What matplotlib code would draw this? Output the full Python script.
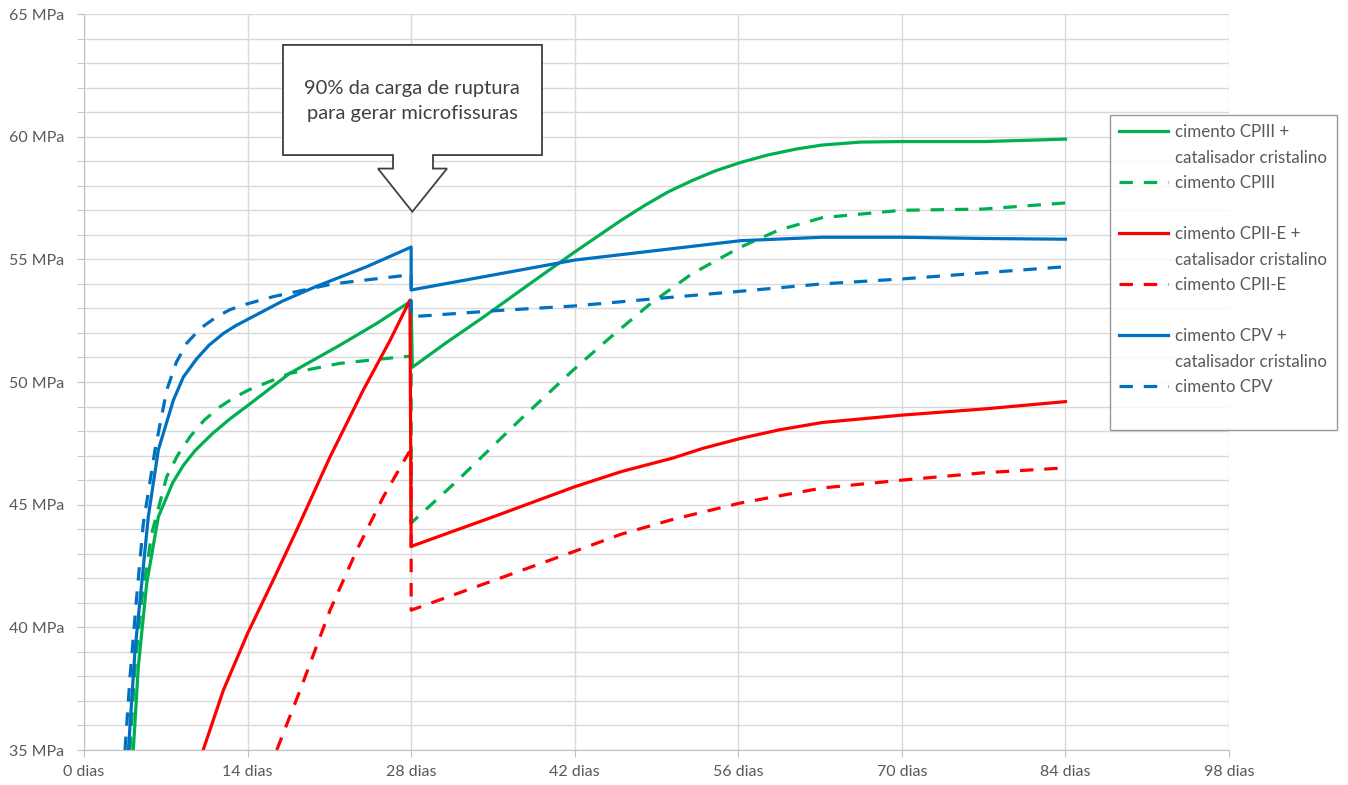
import matplotlib
matplotlib.use("Agg")
import matplotlib.pyplot as plt
from matplotlib.lines import Line2D
from matplotlib.patches import Polygon

plt.rcParams['font.family'] = ['Lato', 'DejaVu Sans']

# eixos
x_ticks = [0, 14, 28, 42, 56, 70, 84, 98]
x_labels = [f"{d} dias" for d in x_ticks]
y_ticks = [35, 40, 45, 50, 55, 60, 65]
y_labels = [f"{v} MPa" for v in y_ticks]
y_minor = list(range(35, 66))

# cimento CPIII + catalisador cristalino
cpiii_cat_dias = [4.22, 4.65, 5.37, 6.36, 7.6, 8.5, 9.5, 11.0, 12.5, 14.07, 17.6, 21.9, 25.06,
                  28.0, 28.1, 31.0, 34.2, 38.0, 42.0, 44.0, 46.0, 48.0, 50.0, 52.0, 54.0, 56.2,
                  58.5, 61.0, 63.2, 66.5, 70.0, 77.0, 84.0]
cpiii_cat_mpa = [35.0, 38.4, 41.8, 44.5, 45.9, 46.6, 47.2, 47.9, 48.5, 49.06, 50.35, 51.5, 52.39,
                 53.3, 50.6, 51.6, 52.65, 53.95, 55.3, 55.95, 56.6, 57.2, 57.75, 58.2, 58.6, 58.95,
                 59.25, 59.5, 59.66, 59.78, 59.8, 59.8, 59.9]

# cimento CPIII
cpiii_dias = [3.94, 4.37, 4.94, 5.8, 7.08, 8.0, 9.08, 10.3, 11.64, 12.8, 14.07, 17.6, 21.9, 27.3,
              28.0, 28.0, 32.0, 37.3, 41.9, 45.0, 48.5, 52.0, 56.2, 59.5, 63.2, 70.0, 77.0, 84.0]
cpiii_mpa = [35.0, 38.4, 41.1, 43.83, 46.14, 47.0, 47.77, 48.45, 48.99, 49.35, 49.67, 50.35, 50.76,
             51.03, 51.05, 44.25, 46.0, 48.45, 50.5, 51.8, 53.2, 54.4, 55.5, 56.2, 56.7, 57.0,
             57.05, 57.3]

# cimento CPII-E + catalisador cristalino
cpii_cat_dias = [10.2, 11.93, 14.0, 16.2, 18.2, 21.06, 23.9, 26.2, 27.9, 28.0, 35.0, 42.0, 46.0,
                 50.4, 53.0, 56.2, 59.5, 63.2, 70.0, 77.0, 84.0]
cpii_cat_mpa = [35.0, 37.44, 39.75, 41.93, 43.96, 46.95, 49.67, 51.7, 53.34, 43.3, 44.5, 45.73,
                46.35, 46.9, 47.3, 47.7, 48.05, 48.35, 48.65, 48.9, 49.2]

# cimento CPII-E
cpii_dias = [16.5, 18.5, 21.06, 23.35, 25.6, 27.77, 28.0, 28.0, 35.0, 42.0, 46.0, 50.4, 56.2,
             63.2, 70.0, 77.0, 84.0]
cpii_mpa = [35.0, 37.44, 40.7, 43.15, 45.3, 47.1, 47.2, 40.7, 41.9, 43.1, 43.8, 44.4, 45.07,
            45.68, 46.0, 46.3, 46.5]

# cimento CPV + catalisador cristalino
cpv_cat_dias = [3.8, 4.37, 4.94, 5.5, 6.36, 7.65, 8.5, 9.65, 10.7, 11.93, 13.0, 14.2, 17.0, 19.9,
                24.2, 28.0, 28.0, 35.0, 42.0, 49.0, 56.2, 63.2, 70.0, 77.0, 84.0]
cpv_cat_mpa = [35.0, 39.08, 41.8, 44.5, 47.23, 49.26, 50.2, 50.95, 51.5, 51.98, 52.3, 52.6, 53.3,
               53.9, 54.7, 55.5, 53.75, 54.36, 54.97, 55.36, 55.76, 55.9, 55.9, 55.85, 55.82]

# cimento CPV
cpv_dias = [3.51, 3.94, 4.51, 5.08, 6.08, 7.08, 7.9, 8.79, 10.0, 11.36, 12.5, 13.64, 16.2, 21.3,
            27.6, 28.0, 28.0, 35.0, 42.0, 49.0, 56.2, 63.2, 70.0, 77.0, 84.0]
cpv_mpa = [35.0, 37.99, 41.25, 44.24, 47.23, 49.67, 50.8, 51.58, 52.2, 52.66, 52.95, 53.14, 53.48,
           54.0, 54.35, 54.4, 52.66, 52.9, 53.1, 53.4, 53.7, 54.0, 54.2, 54.45, 54.7]

verde = '#00B050'
vermelho = '#FF0000'
azul = '#0070C0'
cinza_txt = '#595959'
lw = 2.3
tracejado = (0, (4.2, 3.4))

fig = plt.figure(figsize=(13.48, 7.85), dpi=100)
ax = fig.add_axes([84 / 1348, 35 / 785, 1145 / 1348, 736 / 785])

h1, = ax.plot(cpiii_cat_dias, cpiii_cat_mpa, color=verde, lw=lw)
h2, = ax.plot(cpiii_dias, cpiii_mpa, color=verde, lw=lw, ls=tracejado)
h3, = ax.plot(cpii_cat_dias, cpii_cat_mpa, color=vermelho, lw=lw)
h4, = ax.plot(cpii_dias, cpii_mpa, color=vermelho, lw=lw, ls=tracejado)
h5, = ax.plot(cpv_cat_dias, cpv_cat_mpa, color=azul, lw=lw)
h6, = ax.plot(cpv_dias, cpv_mpa, color=azul, lw=lw, ls=tracejado)

ax.set_xlim(0, 98)
ax.set_ylim(35, 65)
ax.set_xticks(x_ticks)
ax.set_xticklabels(x_labels)
ax.set_yticks(y_ticks)
ax.set_yticklabels(y_labels)
ax.set_yticks(y_minor, minor=True)

ax.grid(True, which='major', color='#D9D9D9', lw=1.0)
ax.grid(True, which='minor', axis='y', color='#D9D9D9', lw=1.0)
ax.set_axisbelow(True)
for s in ['top', 'right']:
    ax.spines[s].set_visible(False)
for s in ['left', 'bottom']:
    ax.spines[s].set_color('#BFBFBF')
ax.tick_params(which='both', direction='out', length=5, color='#BFBFBF',
               labelcolor=cinza_txt, labelsize=11.5)
ax.tick_params(axis='y', pad=9)
ax.tick_params(axis='x', pad=6)

# balão com seta apontando para os 28 dias
tip_x, tip_y = 28.1, 56.94
balao = [(17.03, 63.74), (39.2, 63.74), (39.2, 59.25), (29.87, 59.25), (29.87, 58.7),
         (31.07, 58.7), (tip_x, tip_y), (25.16, 58.7), (26.45, 58.7), (26.45, 59.25),
         (17.03, 59.25)]
ax.add_patch(Polygon(balao, closed=True, fc='white', ec='#404040', lw=1.3, zorder=5))
ax.text(tip_x, 61.45, "90% da carga de ruptura\npara gerar microfissuras",
        ha='center', va='center', fontsize=14.5, color='#404040', linespacing=1.55, zorder=6)

vazio = Line2D([], [], color='none')
handles = [h1, vazio, h2, vazio, h3, vazio, h4, vazio, h5, vazio, h6, vazio]
labels = ['cimento CPIII +', 'catalisador cristalino', 'cimento CPIII', '',
          'cimento CPII-E +', 'catalisador cristalino', 'cimento CPII-E', '',
          'cimento CPV +', 'catalisador cristalino', 'cimento CPV', '']
leg = fig.legend(handles, labels, loc='upper left',
                 bbox_to_anchor=(1110 / 1348, 1 - 115 / 785),
                 fontsize=12.2, labelcolor=cinza_txt, frameon=True, fancybox=False,
                 edgecolor='#808080', handlelength=2.9, handletextpad=0.4,
                 labelspacing=0.56, borderpad=0.55, borderaxespad=0)
leg.get_frame().set_linewidth(1.0)

fig.savefig('out.png', dpi=100)
